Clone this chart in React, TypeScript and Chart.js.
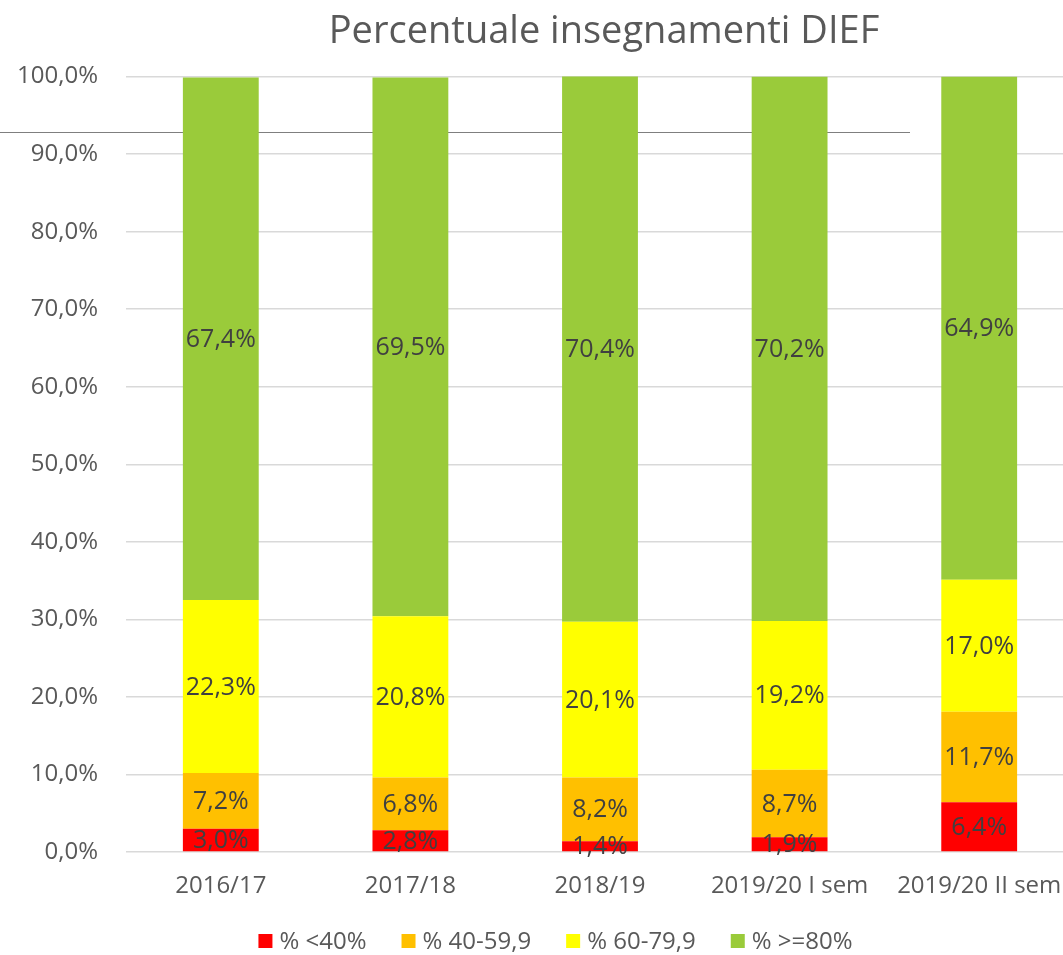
import React, { useEffect, useRef } from "react";
import { Chart, registerables } from "chart.js";

Chart.register(...registerables);

const categories = ["2016/17", "2017/18", "2018/19", "2019/20 I sem", "2019/20 II sem"];
const seriesNames = ["% <40%", "% 40-59,9", "% 60-79,9", "% >=80%"];
const below40 = [3.0, 2.8, 1.4, 1.9, 6.4];
const from40to59 = [7.2, 6.8, 8.2, 8.7, 11.7];
const from60to79 = [22.3, 20.8, 20.1, 19.2, 17.0];
const atLeast80 = [67.4, 69.5, 70.4, 70.2, 64.9];
const seriesColors = ["#FF0000", "#FFC000", "#FFFF00", "#9ACB3A"];

const FONT = "'Open Sans', sans-serif";
const fmt = (v: number) => v.toFixed(1).replace(".", ",") + "%";

const layoutPlugin = {
  id: "shiftBlocks",
  afterLayout(chart: any) {
    const tb = chart.titleBlock;
    if (tb) {
      const c = (tb.left + tb.right) / 2;
      const d = 604 - c;
      tb.left += d;
      tb.right += d;
    }
  },
  beforeDatasetsDraw(chart: any) {
    const ctx = chart.ctx;
    ctx.save();
    ctx.strokeStyle = "#7f7f7f";
    ctx.lineWidth = 1;
    ctx.beginPath();
    ctx.moveTo(0, 132.5);
    ctx.lineTo(910, 132.5);
    ctx.stroke();
    ctx.restore();
  },
  afterDatasetsDraw(chart: any) {
    const ctx = chart.ctx;
    ctx.save();
    ctx.font = `25px ${FONT}`;
    ctx.fillStyle = "#404040";
    ctx.textAlign = "center";
    ctx.textBaseline = "middle";
    chart.data.datasets.forEach((ds: any, di: number) => {
      const meta = chart.getDatasetMeta(di);
      meta.data.forEach((el: any, i: number) => {
        const y = (el.y + el.base) / 2 + 1;
        ctx.fillText(fmt(ds.data[i]), el.x, y);
      });
    });
    ctx.restore();
  },
  afterDraw(chart: any) {
    const ctx = chart.ctx;
    ctx.save();
    ctx.font = `24px ${FONT}`;
    ctx.textBaseline = "middle";
    ctx.textAlign = "left";
    const box = 14, gapText = 7, gapItem = 35;
    const widths = chart.data.datasets.map((d: any) => ctx.measureText(d.label).width);
    let total = 0;
    widths.forEach((w: number, i: number) => {
      total += box + gapText + w + (i < widths.length - 1 ? gapItem : 0);
    });
    let x = 555.5 - total / 2;
    const yc = 941;
    chart.data.datasets.forEach((d: any, i: number) => {
      ctx.fillStyle = d.backgroundColor;
      ctx.fillRect(x, yc - box / 2, box, box);
      ctx.fillStyle = "#595959";
      ctx.fillText(d.label, x + box + gapText, yc + 1);
      x += box + gapText + widths[i] + gapItem;
    });
    ctx.restore();
  },
};

export default function App() {
  const ref = useRef<HTMLCanvasElement | null>(null);
  useEffect(() => {
    if (!ref.current) return;
    const values = [below40, from40to59, from60to79, atLeast80];
    const chart = new Chart(ref.current, {
      type: "bar",
      data: {
        labels: categories,
        datasets: values.map((v, i) => ({
          label: seriesNames[i],
          data: v,
          backgroundColor: seriesColors[i],
          borderWidth: 0,
          barPercentage: 0.4,
          categoryPercentage: 1.0,
        })),
      },
      options: {
        responsive: false,
        animation: false,
        devicePixelRatio: 1,
        layout: { padding: { left: 17, right: 19, top: 0, bottom: 54 } },
        plugins: {
          legend: { display: false },
          tooltip: { enabled: false },
          title: {
            display: true,
            text: "Percentuale insegnamenti DIEF",
            color: "#595959",
            font: { family: FONT, size: 38, weight: "normal", lineHeight: 1.2 },
            padding: { top: 9, bottom: 22 },
          },
        },
        scales: {
          x: {
            stacked: true,
            grid: { display: false, drawTicks: false },
            border: { display: false },
            afterFit: (s: any) => {
              s.height = 49;
            },
            ticks: {
              color: "#595959",
              font: { family: FONT, size: 24 },
              padding: 20,
              maxRotation: 0,
              autoSkip: false,
            },
          },
          y: {
            stacked: true,
            min: 0,
            max: 100,
            grid: { color: "#d9d9d9", lineWidth: 1.5, drawTicks: false },
            border: { display: false },
            afterFit: (s: any) => {
              s.width = 109;
            },
            ticks: {
              stepSize: 10,
              color: "#595959",
              font: { family: FONT, size: 24 },
              padding: 28,
              callback: (v: any) => fmt(Number(v)),
            },
          },
        },
      },
      plugins: [layoutPlugin],
    });
    return () => chart.destroy();
  }, []);
  return (
    <div style={{ position: "fixed", left: 0, top: 0, width: 1063, height: 955, overflow: "hidden", background: "#fff" }}>
      <canvas ref={ref} width={1093} height={955} style={{ display: "block", width: 1093, height: 955 }} />
    </div>
  );
}
